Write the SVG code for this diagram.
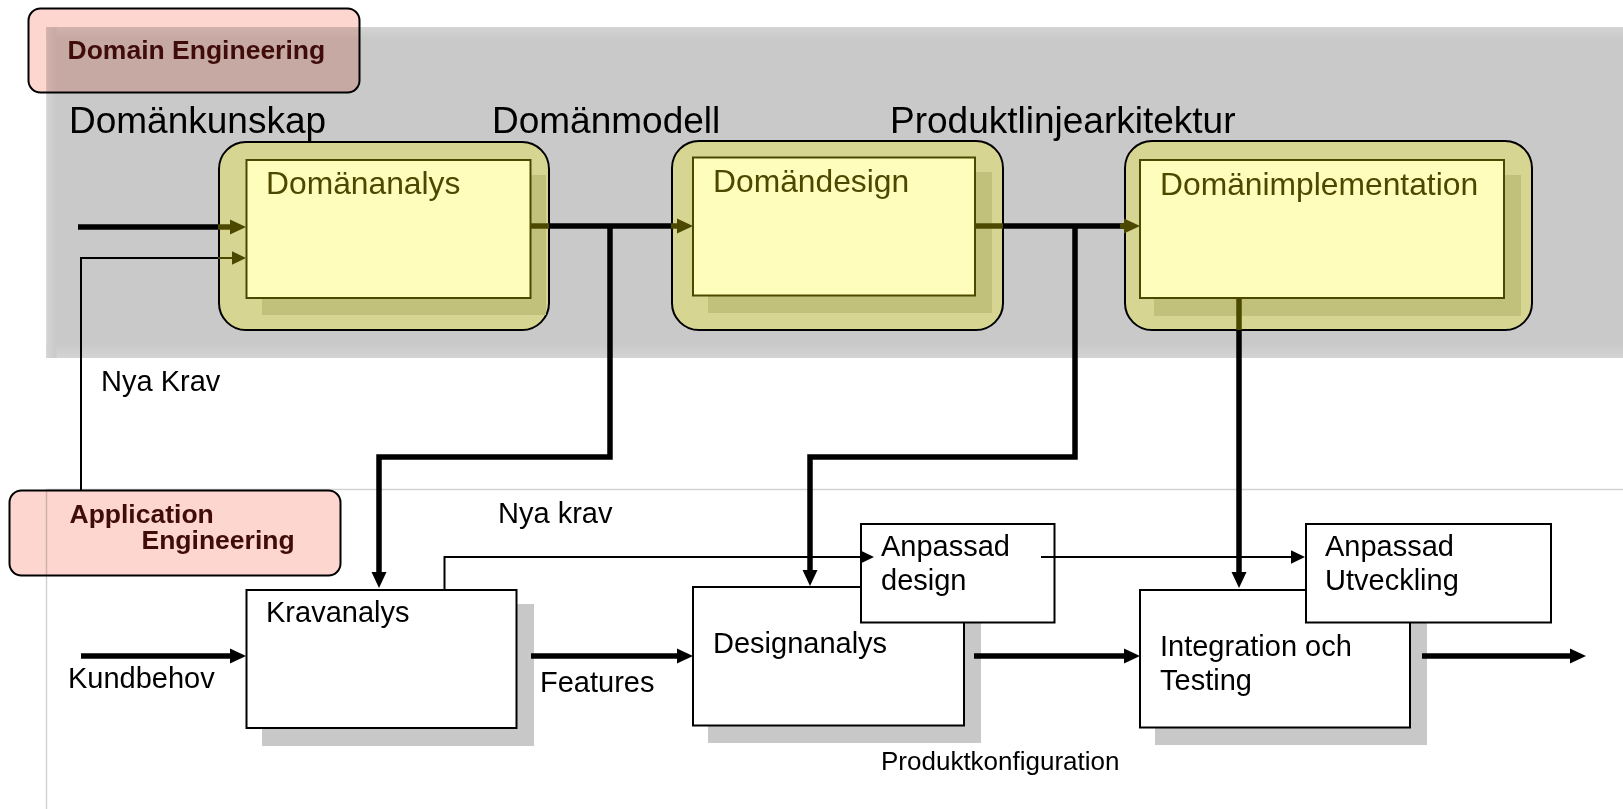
<svg xmlns="http://www.w3.org/2000/svg" width="1623" height="809" viewBox="0 0 1623 809">
  <style>
    text { font-family: "Liberation Sans", Arial, sans-serif; }
    .band-title { font-size: 26.5px; font-weight: bold; fill: #3f0b0b; }
    .artifact { font-size: 37px; fill: #000; }
    .label { font-size: 29px; fill: #000; }
    .label-small { font-size: 26px; fill: #000; }
    .olive-text { font-size: 31.8px; fill: #4d4800; }
    .pink { fill: #fdd6d0; mix-blend-mode: multiply; }
    .pink-border { fill: none; stroke: #000; stroke-width: 2; }
    .outer { fill: #d6d692; stroke: #000; stroke-width: 2; }
    .olive-shadow { fill: #c2c17c; }
    .inner { fill: #fffdbb; stroke: #4d4800; stroke-width: 2; }
    .box { fill: #fff; stroke: #000; stroke-width: 2; }
    .shadow { fill: #c8c8c8; }
    .thick { fill: none; stroke: #000; stroke-width: 5.5; }
    .thick-olive { fill: none; stroke: #4d4800; stroke-width: 5.5; }
    .thin { fill: none; stroke: #000; stroke-width: 2; }
    .thin-olive { fill: none; stroke: #4d4800; stroke-width: 2; }
  </style>
  <defs>
    <marker id="arrow" markerUnits="userSpaceOnUse" markerWidth="16" markerHeight="16" viewBox="0 -8 16 16" refX="1" refY="0" orient="auto">
      <path d="M0,-7.5 L16,0 L0,7.5 z" fill="#000"/>
    </marker>
    <marker id="arrow-olive" markerUnits="userSpaceOnUse" markerWidth="16" markerHeight="16" viewBox="0 -8 16 16" refX="1" refY="0" orient="auto">
      <path d="M0,-7.5 L16,0 L0,7.5 z" fill="#4d4800"/>
    </marker>
    <marker id="arrow-thin" markerUnits="userSpaceOnUse" markerWidth="15" markerHeight="15" viewBox="0 -7 15 14" refX="1" refY="0" orient="auto">
      <path d="M0,-6.8 L14,0 L0,6.8 z" fill="#000"/>
    </marker>
    <marker id="arrow-thin-olive" markerUnits="userSpaceOnUse" markerWidth="15" markerHeight="15" viewBox="0 -7 15 14" refX="1" refY="0" orient="auto">
      <path d="M0,-6.8 L14,0 L0,6.8 z" fill="#4d4800"/>
    </marker>
    <linearGradient id="bevel-top" x1="0" y1="0" x2="0" y2="1">
      <stop offset="0" stop-color="#d4d4d4"/>
      <stop offset="1" stop-color="#c9c9c9"/>
    </linearGradient>
    <linearGradient id="bevel-bottom" x1="0" y1="0" x2="0" y2="1">
      <stop offset="0" stop-color="#c9c9c9"/>
      <stop offset="1" stop-color="#d4d4d4"/>
    </linearGradient>
    <linearGradient id="bevel-left" x1="0" y1="0" x2="1" y2="0">
      <stop offset="0" stop-color="#d4d4d4"/>
      <stop offset="1" stop-color="#c9c9c9"/>
    </linearGradient>
  </defs>

  <rect width="1623" height="809" fill="#fff"/>

  <!-- application engineering panel outline -->
  <g id="application-panel">
    <path d="M1623,489.5 H46.5 V809" fill="none" stroke="#d2d2d2" stroke-width="1.5"/>
  </g>

  <!-- domain engineering band -->
  <g id="domain-band">
    <rect x="46.5" y="27" width="1576.5" height="331" fill="#c9c9c9"/>
    <rect x="46.5" y="27" width="1576.5" height="12" fill="url(#bevel-top)"/>
    <rect x="46.5" y="344" width="1576.5" height="14" fill="url(#bevel-bottom)"/>
    <rect x="46.5" y="27" width="10" height="331" fill="url(#bevel-left)"/>
  </g>

  <!-- band titles -->
  <g id="domain-engineering-title">
    <rect class="pink" x="28.5" y="8.5" width="331" height="84" rx="12"/>
    <rect class="pink-border" x="28.5" y="8.5" width="331" height="84" rx="12"/>
    <text class="band-title" x="67.5" y="58.5">Domain Engineering</text>
  </g>
  <g id="application-engineering-title">
    <rect class="pink" x="9.5" y="490.5" width="331" height="85" rx="12"/>
    <rect class="pink-border" x="9.5" y="490.5" width="331" height="85" rx="12"/>
    <text class="band-title" x="69.5" y="523">Application</text>
    <text class="band-title" x="141.5" y="549">Engineering</text>
  </g>

  <!-- artifact labels -->
  <g id="artifact-labels">
    <text class="artifact" x="69" y="133">Domänkunskap</text>
    <text class="artifact" x="492" y="133">Domänmodell</text>
    <text class="artifact" x="890" y="133">Produktlinjearkitektur</text>
  </g>

  <!-- domain processes -->
  <g id="domananalys">
    <rect class="outer" x="219" y="142" width="330" height="188" rx="27"/>
    <rect class="olive-shadow" x="262" y="175" width="284" height="140"/>
    <rect class="inner" x="246.5" y="160" width="284" height="138"/>
    <text class="olive-text" x="266" y="194">Domänanalys</text>
  </g>
  <g id="domandesign">
    <rect class="outer" x="672" y="141" width="331" height="189" rx="27"/>
    <rect class="olive-shadow" x="708" y="172" width="284" height="141"/>
    <rect class="inner" x="693" y="157.5" width="282" height="138"/>
    <text class="olive-text" x="713" y="192">Domändesign</text>
  </g>
  <g id="domanimplementation">
    <rect class="outer" x="1125" y="141" width="407" height="189" rx="27"/>
    <rect class="olive-shadow" x="1154" y="175" width="367" height="141"/>
    <rect class="inner" x="1140" y="160" width="364" height="138"/>
    <text class="olive-text" x="1160" y="195">Domänimplementation</text>
  </g>

  <!-- application processes -->
  <g id="kravanalys">
    <rect class="shadow" x="262" y="604" width="272" height="142"/>
    <rect class="box" x="246.5" y="590" width="270" height="138"/>
    <text class="label" x="266" y="622">Kravanalys</text>
  </g>
  <g id="designanalys">
    <rect class="shadow" x="708" y="602" width="273" height="141"/>
    <rect class="box" x="693" y="587" width="271" height="138.5"/>
    <text class="label" x="713" y="653">Designanalys</text>
  </g>
  <g id="anpassad-design">
    <rect class="box" x="861" y="524" width="193.5" height="98.5"/>
    <text class="label" x="881" y="556">Anpassad</text>
    <text class="label" x="881" y="590">design</text>
  </g>
  <g id="integration">
    <rect class="shadow" x="1155" y="605" width="272" height="140"/>
    <rect class="box" x="1140" y="590" width="270" height="137.5"/>
    <text class="label" x="1160" y="656">Integration och</text>
    <text class="label" x="1160" y="690">Testing</text>
  </g>
  <g id="anpassad-utveckling">
    <rect class="box" x="1306" y="524" width="245" height="98.5"/>
    <text class="label" x="1325" y="556">Anpassad</text>
    <text class="label" x="1325" y="590">Utveckling</text>
  </g>

  <!-- flow labels -->
  <g id="flow-labels">
    <text class="label" x="101" y="391">Nya Krav</text>
    <text class="label" x="498" y="523">Nya krav</text>
    <text class="label" x="68" y="688">Kundbehov</text>
    <text class="label" x="540" y="692">Features</text>
    <text class="label-small" x="881" y="770">Produktkonfiguration</text>
  </g>

  <!-- connectors -->
  <g id="connectors">
    <!-- Domänkunskap into Domänanalys -->
    <path class="thick" d="M78,227 H219"/>
    <path class="thick-olive" d="M218,227 H231" marker-end="url(#arrow-olive)"/>
    <!-- new requirements fed back into Domänanalys -->
    <path class="thin" d="M81,490 V258 H219"/>
    <path class="thin-olive" d="M218,258 H233" marker-end="url(#arrow-thin-olive)"/>
    <!-- Domänmodell to Domändesign -->
    <path class="thick-olive" d="M531,226 H549"/>
    <path class="thick" d="M549,226 H672"/>
    <path class="thick-olive" d="M671,226 H678" marker-end="url(#arrow-olive)"/>
    <!-- Domänmodell down to Kravanalys -->
    <path class="thick" d="M610,226 V457 H379 V573" marker-end="url(#arrow)"/>
    <!-- Produktlinjearkitektur to Domänimplementation -->
    <path class="thick-olive" d="M975,226 H1003"/>
    <path class="thick" d="M1003,226 H1125"/>
    <path class="thick-olive" d="M1120,226 H1125" marker-end="url(#arrow-olive)"/>
    <!-- Produktlinjearkitektur down to Designanalys -->
    <path class="thick" d="M1075,226 V457 H810 V571" marker-end="url(#arrow)"/>
    <!-- Domänimplementation down to Integration -->
    <path class="thick-olive" d="M1239,298 V330"/>
    <path class="thick" d="M1239,330 V573" marker-end="url(#arrow)"/>
    <!-- application flow -->
    <path class="thick" d="M81,656 H231" marker-end="url(#arrow)"/>
    <path class="thick" d="M531,656 H678" marker-end="url(#arrow)"/>
    <path class="thick" d="M974,656 H1125" marker-end="url(#arrow)"/>
    <path class="thick" d="M1422,656 H1571" marker-end="url(#arrow)"/>
    <!-- new requirements to the custom steps -->
    <path class="thin" d="M444.5,590 V557 H861" marker-end="url(#arrow-thin)"/>
    <path class="thin" d="M1041,557 H1292" marker-end="url(#arrow-thin)"/>
  </g>
</svg>
